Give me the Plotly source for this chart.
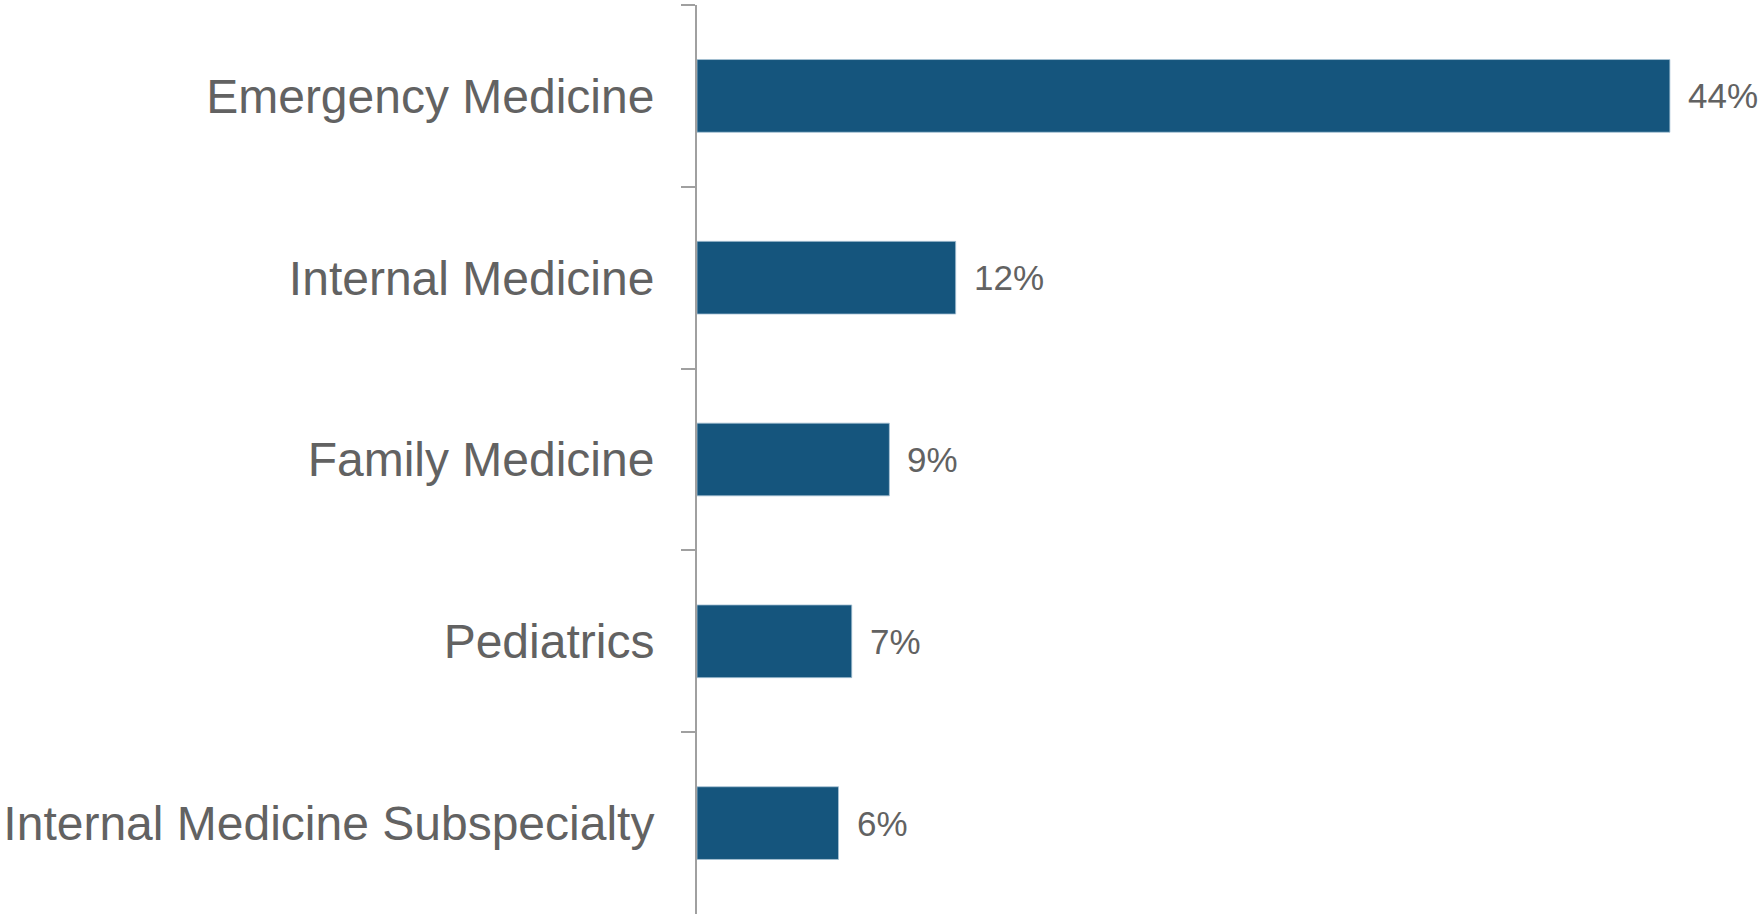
import plotly.graph_objects as go

categories = ["Emergency Medicine", "Internal Medicine", "Family Medicine",
              "Pediatrics", "Internal Medicine Subspecialty"]
values = [44.0, 11.7, 8.7, 7.0, 6.4]

BAR = "#15557d"
TXT = "#626262"
AX = "#a0a0a0"
FONT = "Liberation Sans, Arial, sans-serif"

fig = go.Figure()
fig.add_trace(go.Bar(
    x=values, y=categories, orientation="h",
    marker=dict(color=BAR, line=dict(color="#a9c4d6", width=0.8)),
    width=0.4, hoverinfo="skip",
))

for c, v in zip(categories, values):
    fig.add_annotation(x=v, y=c, text=f"{v:.0f}%", showarrow=False,
                       xanchor="left", yanchor="middle", xshift=16,
                       font=dict(family=FONT, size=35, color=TXT))

fig.update_layout(
    width=1761, height=916, autosize=False,
    margin=dict(l=697, r=0, t=5, b=2),
    paper_bgcolor="white", plot_bgcolor="white",
    showlegend=False,
    font=dict(family=FONT, color=TXT),
    xaxis=dict(range=[0, 48.12], visible=False, fixedrange=True),
    yaxis=dict(autorange="reversed", tickson="boundaries",
               ticks="outside", ticklen=14, tickwidth=2, tickcolor=AX,
               showline=True, linecolor=AX, linewidth=2,
               showgrid=False, zeroline=False,
               tickfont=dict(family=FONT, size=48, color=TXT),
               ticklabelstandoff=31),
)

fig.write_html("out.html", config={"displayModeBar": False},
               post_script="document.body.style.margin='0';")
